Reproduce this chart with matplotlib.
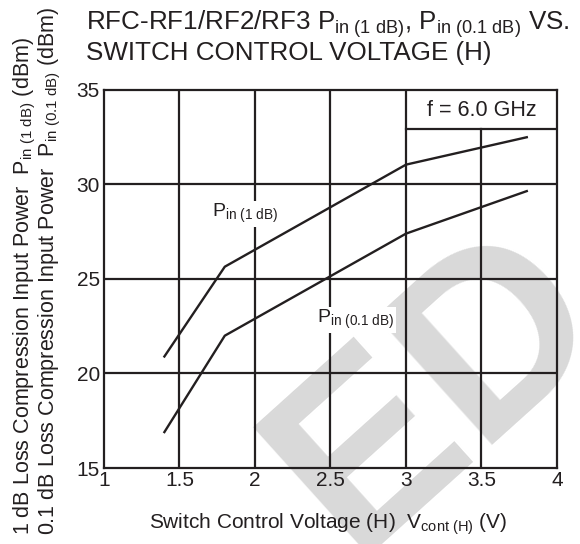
import numpy as np
import matplotlib
matplotlib.use('agg')
import matplotlib.pyplot as plt

plt.rcParams['font.family'] = ['Liberation Sans', 'DejaVu Sans']
plt.rcParams['mathtext.fontset'] = 'custom'
plt.rcParams['mathtext.rm'] = 'Liberation Sans'
plt.rcParams['mathtext.it'] = 'Liberation Sans'

# data
vcont = [1.4, 1.8, 3.0, 3.8]
pin_1db = [20.9, 25.65, 31.05, 32.5]
pin_01db = [16.9, 22.0, 27.4, 29.65]

xticks = [1, 1.5, 2, 2.5, 3, 3.5, 4]
xtick_labels = ['1', '1.5', '2', '2.5', '3', '3.5', '4']
yticks = [15, 20, 25, 30, 35]

ink = '#231f20'

fig = plt.figure(figsize=(5.8, 5.44), dpi=100)
ax = fig.add_axes([0.1793, 0.1397, 0.781, 0.6949])
ax.set_zorder(2)
ax.set_facecolor('none')

# watermark behind the plot
fig.text(0.755, 0.28, 'ED', fontsize=180, fontweight='bold', color='#d9d9d9',
         rotation=42, ha='center', va='center', zorder=0)

ax.set_xlim(1, 4)
ax.set_ylim(15, 35)

lw = 1.6
for x in xticks[1:-1]:
    top = 32.94 if x == 3.5 else 35
    ax.plot([x, x], [15, top], color=ink, lw=lw, zorder=2)
for y in yticks[1:-1]:
    ax.plot([1, 4], [y, y], color=ink, lw=lw, zorder=2)
ax.plot([3, 4], [32.94, 32.94], color=ink, lw=lw, zorder=2)

for s in ax.spines.values():
    s.set_color(ink)
    s.set_linewidth(lw)

ax.plot(vcont, pin_1db, color=ink, lw=1.7, zorder=4)
ax.plot(vcont, pin_01db, color=ink, lw=1.7, zorder=4)

ax.text(1.715, 28.45, r'$\mathregular{P_{in\ (1\ dB)}}$', fontsize=14, color=ink,
        va='center', ha='left', zorder=5,
        bbox=dict(facecolor='white', edgecolor='none', pad=1))
ax.text(2.41, 22.85, r'$\mathregular{P_{in\ (0.1\ dB)}}$', fontsize=14, color=ink,
        va='center', ha='left', zorder=5,
        bbox=dict(facecolor='white', edgecolor='none', pad=1))
ax.text(3.5, 33.9, 'f = 6.0 GHz', fontsize=15.5, color=ink, ha='center', va='center', zorder=5)

ax.set_xticks(xticks)
ax.set_xticklabels(xtick_labels)
ax.set_yticks(yticks)
ax.tick_params(length=0, labelsize=15, colors=ink)
ax.tick_params(axis='x', pad=2)
ax.tick_params(axis='y', pad=3)

fig.text(0.566, 0.028, r'Switch Control Voltage (H)  $\mathregular{V_{cont\ (H)}}$ (V)',
         fontsize=15, color=ink, ha='center', va='baseline')

fig.text(0.043, 0.017, r'1 dB Loss Compression Input Power  $\mathregular{P_{in\ (1\ dB)}}$ (dBm)',
         rotation=90, fontsize=15.5, color=ink, ha='center', va='bottom')
fig.text(0.086, 0.017, r'0.1 dB Loss Compression Input Power  $\mathregular{P_{in\ (0.1\ dB)}}$ (dBm)',
         rotation=90, fontsize=15.5, color=ink, ha='center', va='bottom')

fig.text(0.148, 0.945, r'RFC-RF1/RF2/RF3 $\mathregular{P_{in\ (1\ dB)}}$, $\mathregular{P_{in\ (0.1\ dB)}}$ VS.',
         fontsize=18.7, color=ink, ha='left', va='baseline')
fig.text(0.148, 0.89, 'SWITCH CONTROL VOLTAGE (H)',
         fontsize=18.7, color=ink, ha='left', va='baseline')

fig.savefig('out.png', dpi=100)
